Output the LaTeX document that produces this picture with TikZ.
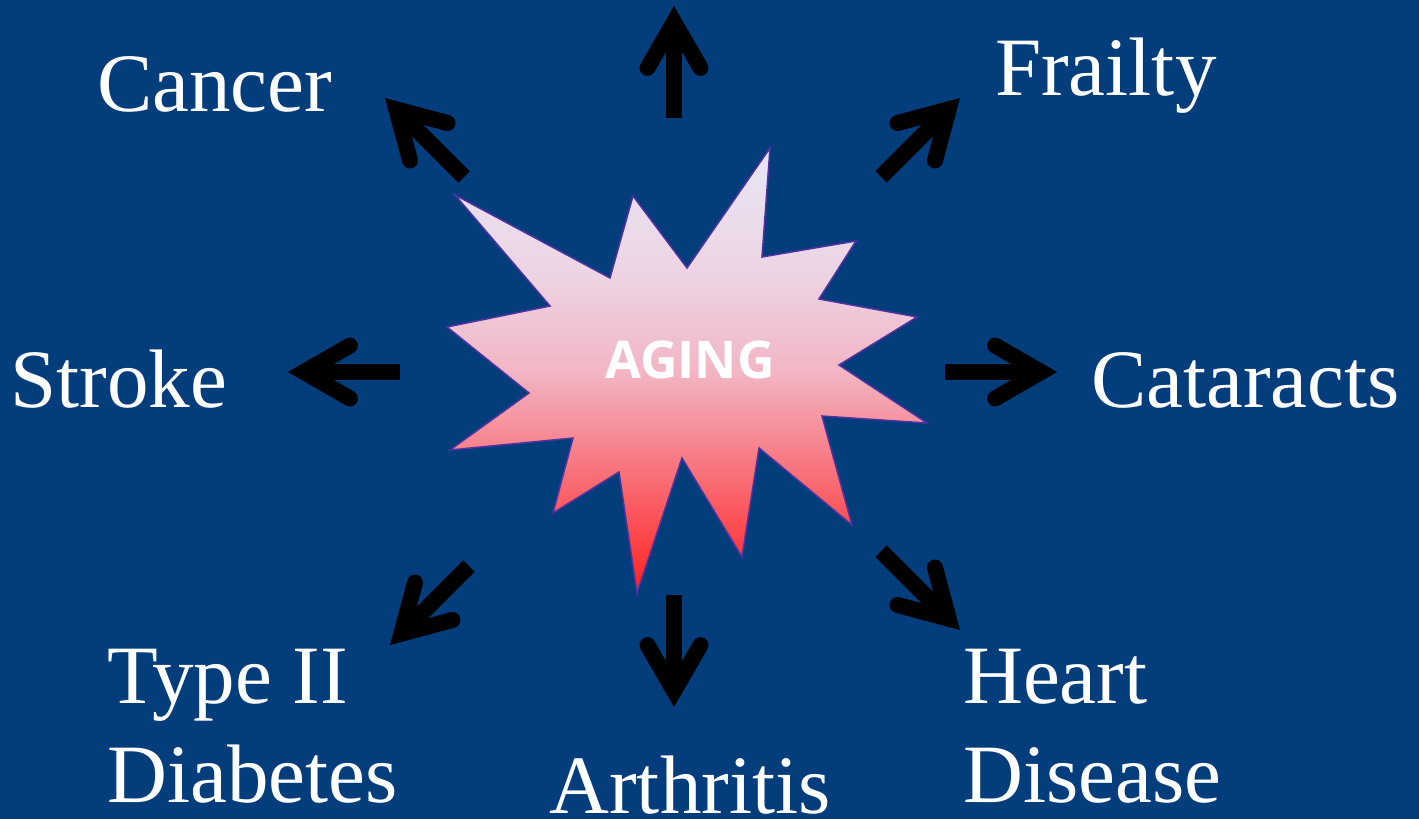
\documentclass[tikz,border=0pt]{standalone}
\usepackage{fontspec}
\setmainfont{Liberation Serif}
\newfontfamily\agingfont{Open Sans}
\usetikzlibrary{calc}
\definecolor{bgblue}{RGB}{4,61,124}
\definecolor{burstTop}{RGB}{232,230,246}
\definecolor{burstUp}{RGB}{237,212,228}
\definecolor{burstMid}{RGB}{242,182,197}
\definecolor{burstBot}{RGB}{255,32,32}
\definecolor{burstLine}{RGB}{80,50,160}
\pgfdeclareverticalshading{burstshade}{100bp}{color(0bp)=(burstBot); color(25bp)=(burstBot); color(50bp)=(burstMid); color(61bp)=(burstUp); color(75bp)=(burstTop); color(100bp)=(burstTop)}
\newcommand{\agearrow}[2]{%
  \coordinate (v#2) at ($(#2)!16pt!(#1)$);
  \coordinate (a#2) at ($(v#2)!53pt!30:(#1)$);
  \coordinate (b#2) at ($(v#2)!53pt!-30:(#1)$);
  \draw[shaftline] (#1) -- (v#2);
  \draw[headline] (a#2) -- (v#2) -- (b#2);
}
\begin{document}
\begin{tikzpicture}[x=1pt,y=-1pt,
  shaftline/.style={line width=16pt, line cap=butt, black},
  headline/.style={line width=16pt, line cap=round, line join=miter, black},
  label/.style={text=white, inner sep=0pt, font=\fontsize{83}{99}\selectfont},
  burst/.style={draw=burstLine, line width=1.5pt, shading=burstshade}]
\useasboundingbox (0,0) rectangle (1419,819);
\fill[bgblue] (0,0) rectangle (1419,819);
% starburst
\path[burst] (455,195) -- (610,278) -- (633,196) -- (687,268) -- (770,148) -- (762,257)
  -- (856,241) -- (819,299) -- (917,317) -- (839,365) -- (927,423) -- (822,416)
  -- (852,525) -- (759,448) -- (742,557) -- (682,458) -- (637,593) -- (619,472)
  -- (553,513) -- (573,438) -- (450,450) -- (529,393) -- (447,327) -- (550,306) -- cycle;
\node[text=white, inner sep=0pt, anchor=base, font=\agingfont\bfseries\fontsize{52}{60}\selectfont] (aging) at (690,378) {AGING};
% labels
\node[label, anchor=base west] (cancer) at (97,111) {Cancer};
\node[label, anchor=base west] (frailty) at (995,95) {Frailty};
\node[label, anchor=base west] (stroke) at (10,407) {Stroke};
\node[label, anchor=base west] (cataracts) at (1091,407) {Cataracts};
\node[label, anchor=base west] (diabetes) at (107,703) {\vtop{\hbox{Type II}\hbox{Diabetes}}};
\node[label, anchor=base west] (heart) at (963,703) {\vtop{\hbox{Heart}\hbox{Disease}}};
\node[label, anchor=base, text depth=0pt] (arthritis) at (690,813) {Arthritis};
% arrow ends
\coordinate (tU) at (674,118);   \coordinate (pU) at (674,6);
\coordinate (tUR) at (881,177);  \coordinate (pUR) at (960,98);
\coordinate (tR) at (945,372);   \coordinate (pR) at (1057,372);
\coordinate (tDR) at (881,551);  \coordinate (pDR) at (960,630);
\coordinate (tD) at (674,595);   \coordinate (pD) at (674,707);
\coordinate (tDL) at (469,566);  \coordinate (pDL) at (390,645);
\coordinate (tL) at (400,372);   \coordinate (pL) at (288,372);
\coordinate (tUL) at (464,177);  \coordinate (pUL) at (385,98);
\agearrow{tU}{pU}
\agearrow{tUR}{pUR}
\agearrow{tR}{pR}
\agearrow{tDR}{pDR}
\agearrow{tD}{pD}
\agearrow{tDL}{pDL}
\agearrow{tL}{pL}
\agearrow{tUL}{pUL}
\end{tikzpicture}
\end{document}
